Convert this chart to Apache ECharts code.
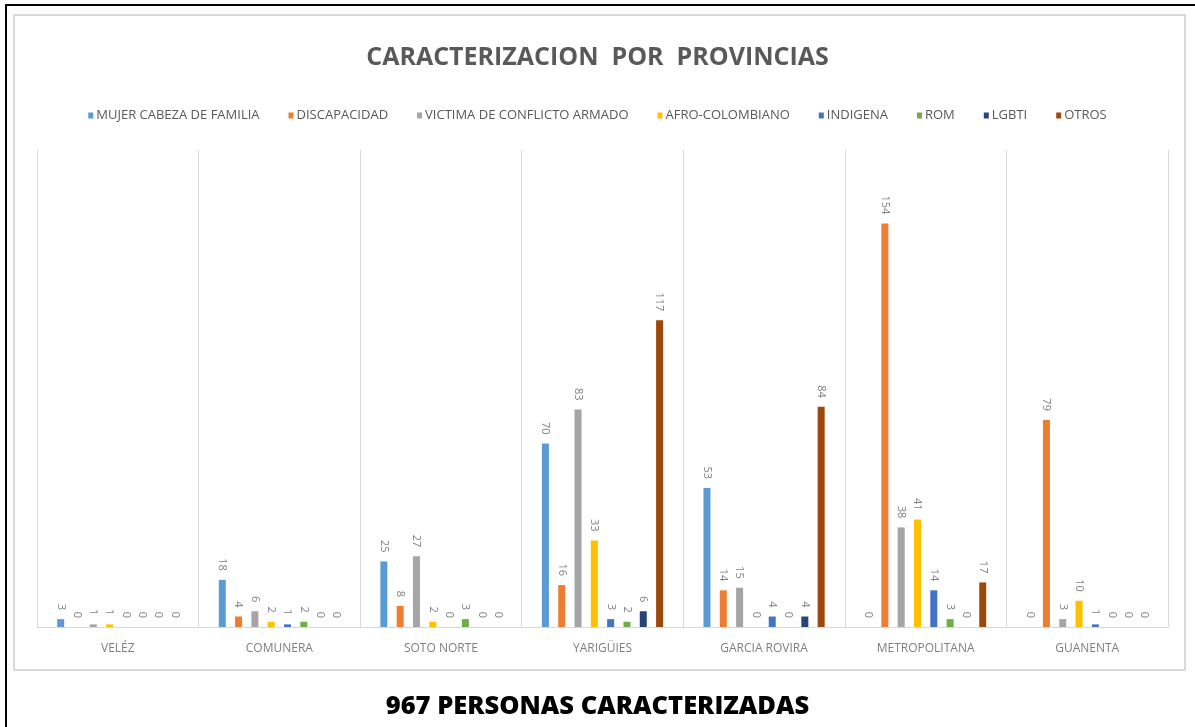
<!DOCTYPE html>
<html>
<head>
<meta charset="utf-8">
<title>Caracterizacion por provincias</title>
<script src="https://cdn.jsdelivr.net/npm/echarts@6/dist/echarts.min.js"></script>
<style>
  html, body { margin: 0; padding: 0; background: #fff; }
  #main { width: 1195px; height: 727px; }
</style>
</head>
<body>
<div id="main"></div>
<script>
// provincias
const provincias = ['VELÉZ', 'COMUNERA', 'SOTO NORTE', 'YARIGÜIES', 'GARCIA ROVIRA', 'METROPOLITANA', 'GUANENTA']

// una lista por grupo poblacional (mismo orden que provincias)
const mujerCabeza   = [3, 18, 25, 70, 53, 0, 0]
const discapacidad  = [0, 4, 8, 16, 14, 154, 79]
const victima       = [1, 6, 27, 83, 15, 38, 3]
const afro          = [1, 2, 2, 33, 0, 41, 10]
const indigena      = [0, 1, 0, 3, 4, 14, 1]
const rom           = [0, 2, 3, 2, 0, 3, 0]
const lgbti         = [0, 0, 0, 6, 4, 0, 0]
const otros         = [0, 0, 0, 117, 84, 17, 0]

const grupos = [
  {name: 'MUJER CABEZA DE FAMILIA', data: mujerCabeza, color: '#5b9bd5'},
  {name: 'DISCAPACIDAD', data: discapacidad, color: '#ed7d31'},
  {name: 'VICTIMA DE CONFLICTO ARMADO', data: victima, color: '#a5a5a5'},
  {name: 'AFRO-COLOMBIANO', data: afro, color: '#ffc000'},
  {name: 'INDIGENA', data: indigena, color: '#4472c4'},
  {name: 'ROM', data: rom, color: '#70ad47'},
  {name: 'LGBTI', data: lgbti, color: '#264478'},
  {name: 'OTROS', data: otros, color: '#9e480e'}
]

const myChart = echarts.init(document.getElementById('main'))

const option = {
  backgroundColor: '#fff',
  animation: false,
  textStyle: {fontFamily: 'Open Sans, sans-serif'},
  title: [
    {
      text: 'CARACTERIZACION  POR  PROVINCIAS',
      left: 'center',
      top: 40,
      textStyle: {color: '#595959', fontSize: 25, fontWeight: 'bold', fontFamily: 'Open Sans'}
    },
    {
      text: '967 PERSONAS CARACTERIZADAS',
      left: 'center',
      top: 689,
      textStyle: {color: '#000', fontSize: 25.5, fontWeight: 800, fontFamily: 'Open Sans'}
    }
  ],
  legend: {
    top: 104,
    left: 'center',
    itemWidth: 5,
    itemHeight: 6,
    itemGap: 29,
    icon: 'rect',
    textStyle: {color: '#595959', fontSize: 13, padding: [0, 0, 0, -2]},
    data: grupos.map(g => g.name)
  },
  grid: {left: 37, right: 27, top: 150, bottom: 100},
  xAxis: {
    type: 'category',
    data: provincias,
    axisLine: {lineStyle: {color: '#d9d9d9', width: 1}},
    axisTick: {show: false},
    axisLabel: {color: '#7f7f7f', fontSize: 12, margin: 16},
    splitLine: {show: true, lineStyle: {color: '#d9d9d9', width: 1}}
  },
  yAxis: {
    type: 'value',
    min: 0,
    max: 182,
    show: false,
    splitLine: {show: false}
  },
  graphic: [
    // marco negro exterior
    {
      type: 'rect',
      shape: {x: 6, y: 5, width: 1200, height: 740},
      style: {fill: 'none', stroke: '#000', lineWidth: 2},
      silent: true
    },
    // recuadro gris del grafico
    {
      type: 'rect',
      shape: {x: 14, y: 15, width: 1171, height: 655},
      style: {fill: 'none', stroke: '#d9d9d9', lineWidth: 2},
      silent: true
    }
  ],
  series: grupos.map(g => ({
    type: 'bar',
    name: g.name,
    data: g.data,
    barWidth: 7,
    barGap: '133%',
    itemStyle: {color: g.color},
    label: {
      show: true,
      position: 'top',
      rotate: -90,
      distance: 9,
      align: 'right',
      verticalAlign: 'middle',
      color: '#7f7f7f',
      fontSize: 11
    }
  }))
}

myChart.setOption(option)
</script>
</body>
</html>
